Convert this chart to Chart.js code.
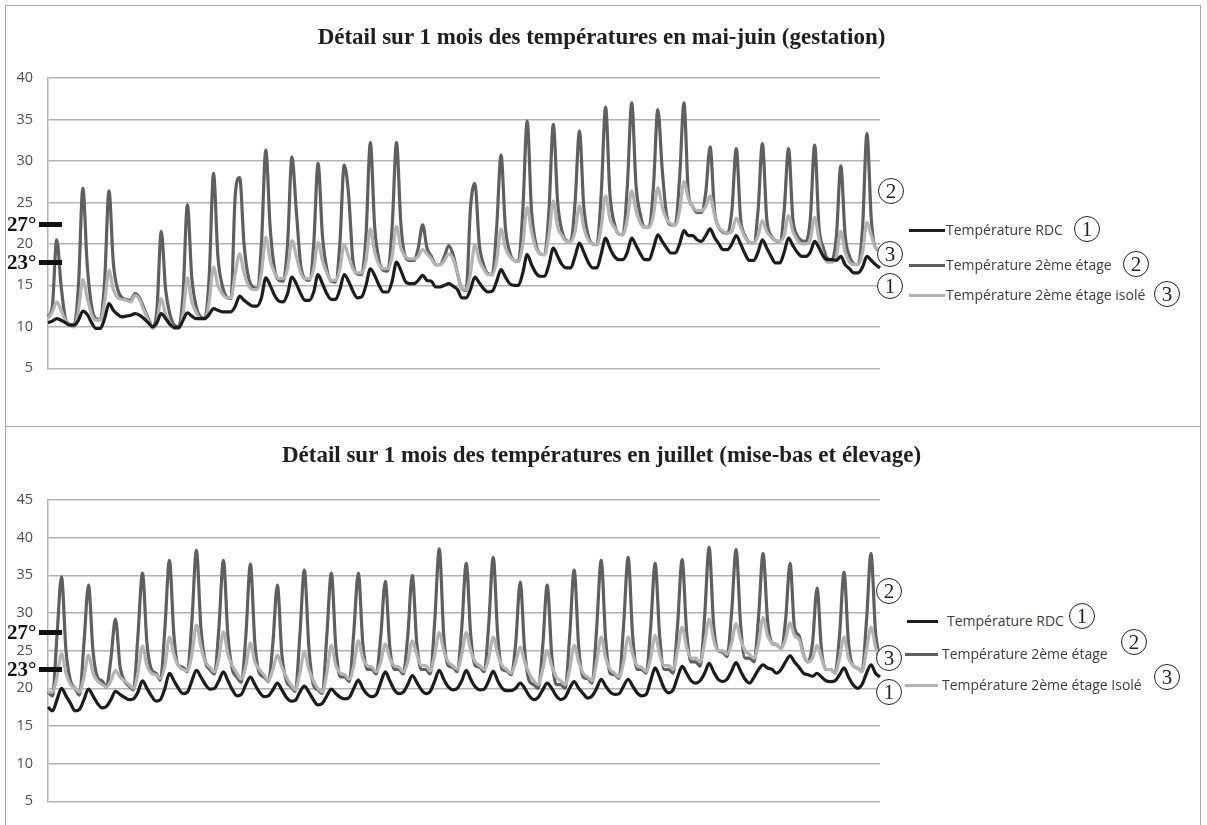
<!DOCTYPE html>
<html lang="fr">
<head>
<meta charset="utf-8">
<title>Détail sur 1 mois des températures</title>
<script src="https://cdn.jsdelivr.net/npm/chart.js@4/dist/chart.umd.min.js"></script>
<style>
  html, body { margin: 0; padding: 0; background: #fff; }
  body { width: 1207px; height: 825px; position: relative; overflow: hidden; }
  .frame { position: absolute; left: 5px; top: 5px; width: 1194px; height: 840px; border: 1.5px solid #a8a8a8; }
  .divider { position: absolute; left: 5px; top: 426px; width: 1196px; height: 0; border-top: 1.5px solid #a8a8a8; }
  canvas { position: absolute; left: 0; }
  .title { position: absolute; left: 0; width: 1203px; text-align: center; font: bold 23px "Liberation Serif", serif; color: #1f1f1f; line-height: 26px; }
  .deg { position: absolute; left: 7px; font: bold 21px "Liberation Serif", serif; color: #111; line-height: 22px; }
  .dash { position: absolute; left: 39px; width: 23px; height: 5px; background: #111; }
  .leg-line { position: absolute; height: 3px; }
  .leg-text { position: absolute; font: 14px "Open Sans", sans-serif; color: #3c3c3c; line-height: 18px; white-space: nowrap; }
  .circ { position: absolute; width: 24px; height: 24px; border: 1.2px solid #222; border-radius: 50%; background: #fff;
          font: 21px "Liberation Serif", serif; color: #222; text-align: center; line-height: 25px; box-sizing: content-box; }
</style>
</head>
<body>
<div class="frame"></div>
<div class="divider"></div>

<canvas id="chartMai" width="890" height="392" style="top:0"></canvas>
<canvas id="chartJuillet" width="890" height="398" style="top:427px"></canvas>

<div class="title" style="top:24px">Détail sur 1 mois des températures en mai-juin (gestation)</div>
<div class="title" style="top:442px">Détail sur 1 mois des températures en juillet (mise-bas et élevage)</div>

<!-- repères 27° / 23° -->
<div class="deg" style="top:213px">27°</div><div class="dash" style="top:222px"></div>
<div class="deg" style="top:251px">23°</div><div class="dash" style="top:260px"></div>
<div class="deg" style="top:621px">27°</div><div class="dash" style="top:630px"></div>
<div class="deg" style="top:658px">23°</div><div class="dash" style="top:667px"></div>

<!-- légende mai-juin -->
<div class="circ" style="left:878px;top:178px">2</div>
<div class="circ" style="left:877px;top:241px">3</div>
<div class="circ" style="left:877px;top:273px">1</div>
<div class="leg-line" style="left:909px;top:229px;width:36px;background:#1c1c1c"></div>
<div class="leg-text" style="left:946px;top:221px">Température RDC</div>
<div class="circ" style="left:1074px;top:216px">1</div>
<div class="leg-line" style="left:909px;top:264px;width:36px;background:#5f5f5f"></div>
<div class="leg-text" style="left:946px;top:256px">Température 2ème étage</div>
<div class="circ" style="left:1123px;top:251px">2</div>
<div class="leg-line" style="left:909px;top:294px;width:36px;background:#b3b3b3"></div>
<div class="leg-text" style="left:946px;top:286px">Température 2ème étage isolé</div>
<div class="circ" style="left:1154px;top:281px">3</div>

<!-- légende juillet -->
<div class="circ" style="left:876px;top:578px">2</div>
<div class="circ" style="left:876px;top:645px">3</div>
<div class="circ" style="left:876px;top:679px">1</div>
<div class="leg-line" style="left:907px;top:620px;width:31px;background:#1c1c1c"></div>
<div class="leg-text" style="left:947px;top:612px">Température RDC</div>
<div class="circ" style="left:1069px;top:603px">1</div>
<div class="leg-line" style="left:905px;top:653px;width:33px;background:#5f5f5f"></div>
<div class="leg-text" style="left:942px;top:645px">Température 2ème étage</div>
<div class="circ" style="left:1121px;top:629px">2</div>
<div class="leg-line" style="left:905px;top:684px;width:33px;background:#b3b3b3"></div>
<div class="leg-text" style="left:942px;top:676px">Température 2ème étage Isolé</div>
<div class="circ" style="left:1154px;top:664px">3</div>

<script>
// Relevés toutes les 4 h, 6 valeurs par jour
// mai-juin : 32 jours
const mayRdc = [
  10.5,10.7,11.0,10.8,10.5,10.2,  10.2,10.8,11.9,11.5,10.5,9.8,  9.8,11.0,12.8,12.0,11.5,11.2,  11.3,11.4,11.6,11.4,11.0,10.5,
  10.0,10.5,11.6,11.0,10.3,9.9,   9.9,10.8,11.7,11.3,11.0,11.0,  11.0,11.5,12.2,12.0,11.8,11.8, 11.8,12.5,13.7,13.2,12.8,12.5,
  12.5,13.5,15.9,15.0,13.8,13.1,  13.0,14.0,16.0,15.2,14.0,13.2, 13.2,14.2,16.3,15.2,14.0,13.3, 13.3,14.5,16.3,15.5,14.3,13.5,
  13.6,15.0,17.0,16.2,15.0,14.2,  14.2,15.5,17.8,16.8,15.5,15.2, 15.2,15.6,16.2,15.6,15.5,14.8, 14.8,15.0,15.2,14.9,14.5,13.5,
  13.5,14.5,16.0,15.3,14.6,14.2,  14.3,15.5,16.9,16.0,15.2,15.0, 15.0,16.5,18.7,17.5,16.5,16.1, 16.1,17.5,19.5,18.5,17.5,17.1,
  17.1,18.5,20.1,19.0,17.8,17.1,  17.1,18.8,20.7,19.5,18.5,18.1, 18.1,19.0,20.7,19.8,18.8,18.1, 18.1,19.5,21.1,20.3,19.5,18.9,
  18.9,20.0,21.6,21.0,21.0,20.5,  20.3,21.0,21.8,20.8,20.0,19.3, 19.3,20.0,21.0,20.0,18.8,18.0, 18.0,19.0,20.5,19.5,18.5,17.7,
  17.7,19.0,20.7,19.8,19.0,18.5,  18.5,19.0,20.3,19.5,18.5,18.1, 18.1,18.0,18.5,17.5,17.0,16.5, 16.5,17.2,18.5,18.0,17.5,17.1
];
const mayEtage2 = [
  11.2,12.5,20.5,15.0,11.0,10.3,  10.2,15.0,26.7,17.5,12.5,11.0, 10.9,15.5,26.4,17.7,14.5,13.5, 13.3,13.2,14.0,13.5,12.3,11.0,
  10.0,12.0,21.5,14.5,11.5,10.2,  10.0,14.0,24.7,16.0,12.5,11.2, 11.0,16.0,28.5,18.5,15.0,13.6, 13.4,26.0,28.0,20.0,16.0,14.8,
  14.6,20.0,31.3,22.0,17.0,15.6,  15.5,20.0,30.5,24.0,17.5,15.8, 15.6,20.0,29.7,21.0,17.0,15.5, 15.4,20.0,29.5,26.0,18.0,16.4,
  16.3,21.0,32.2,22.0,18.0,16.8,  16.7,22.0,32.2,22.5,18.5,18.0, 18.0,19.5,22.3,19.5,18.5,17.5, 17.5,18.5,19.8,18.7,16.5,14.6,
  14.4,24.4,27.3,20.0,17.5,16.4,  16.3,22.0,30.7,22.0,19.0,18.0, 17.9,24.0,34.8,24.0,20.0,18.8, 18.7,24.0,34.4,25.0,21.5,20.4,
  20.3,25.0,33.6,24.5,21.0,20.0,  19.9,26.0,36.5,26.0,22.5,21.2, 21.1,27.0,37.0,27.0,23.5,22.0, 22.0,27.0,36.2,29.0,23.5,22.3,
  22.3,28.0,37.0,26.2,24.5,23.8,  23.8,26.2,31.7,24.0,22.0,21.4, 21.3,24.0,31.5,23.0,21.0,20.2, 20.1,24.0,32.1,23.0,21.0,20.4,
  20.3,24.0,31.5,23.0,21.0,20.4,  20.3,23.0,31.9,22.0,19.5,18.2, 18.1,21.0,29.4,21.0,18.5,17.6, 17.5,22.0,33.3,23.0,19.5,19.3
];
const mayIsole = [
  11.0,11.8,13.0,12.0,10.8,10.2,  10.0,12.0,15.7,13.5,11.5,10.8, 10.8,13.0,16.8,14.5,13.5,13.3, 13.2,13.0,13.8,13.3,12.0,10.8,
  9.8,10.5,13.4,11.5,10.5,9.8,    9.8,11.5,15.9,13.0,11.8,11.0,  11.0,13.0,17.2,15.0,14.0,13.5, 13.5,16.5,18.8,16.5,15.0,14.5,
  14.5,16.5,20.8,18.0,16.5,15.8,  15.8,17.0,20.4,18.5,16.5,15.8, 15.8,17.0,20.2,18.0,16.5,15.6, 15.6,17.0,19.9,18.5,17.0,16.5,
  16.5,18.0,21.8,19.0,17.5,17.0,  17.0,18.5,22.1,19.5,18.5,18.2, 18.2,18.5,19.3,18.8,18.2,17.5, 17.5,18.0,18.8,18.2,16.5,14.6,
  14.5,16.5,19.9,18.0,17.0,16.3,  16.3,18.0,21.8,19.5,18.5,18.0, 17.9,20.0,24.4,21.5,19.5,18.8, 18.7,21.0,25.2,22.0,21.0,20.3,
  20.3,21.5,24.6,22.0,20.5,20.0,  19.9,22.0,25.8,23.0,22.0,21.2, 21.1,23.0,26.4,24.0,22.5,22.0, 22.0,23.5,26.8,24.5,23.0,22.4,
  22.3,24.0,27.5,25.5,24.5,24.0,  24.0,24.5,25.8,23.5,22.0,21.5, 21.3,21.5,23.1,22.0,20.8,20.2, 20.1,21.0,22.8,21.5,20.8,20.4,
  20.3,21.0,23.4,21.5,20.5,20.0,  20.0,20.5,23.2,20.5,18.5,17.8, 17.8,18.5,21.5,19.0,17.8,17.5, 17.5,19.0,22.6,21.0,19.5,19.3
];

// juillet : 31 jours
const julRdc = [
  17.5,17.0,18.5,20.0,19.0,18.0,  17.0,17.2,18.5,19.9,19.0,18.0, 17.4,17.6,18.5,19.6,19.2,18.8, 18.5,18.6,19.5,21.0,20.0,19.0,
  18.3,18.5,20.0,22.0,21.0,20.0,  19.3,19.5,21.0,22.4,21.5,20.5, 19.9,20.0,21.0,22.2,21.0,19.8, 19.0,19.2,20.5,21.5,20.5,19.5,
  18.9,19.0,19.8,20.7,19.8,18.8,  18.3,18.4,19.5,20.3,19.5,18.5, 17.8,18.0,19.0,19.9,19.3,18.8, 18.6,18.8,20.0,21.1,20.0,19.2,
  18.9,19.2,20.8,22.2,21.0,19.8,  19.3,19.5,20.5,21.7,20.8,19.8, 19.3,19.6,21.0,22.4,21.2,20.2, 19.8,20.0,21.0,22.4,21.2,20.2,
  19.8,19.9,21.0,22.3,21.0,20.0,  19.7,19.7,20.0,20.7,20.0,19.0, 18.5,18.8,19.8,20.7,20.0,19.0, 18.5,18.8,20.0,20.9,20.0,19.3,
  18.7,19.0,20.0,21.2,20.3,19.5,  19.2,19.3,20.3,21.2,20.3,19.4, 19.0,19.2,21.0,22.7,21.5,20.0, 19.4,19.8,21.5,22.9,22.0,21.0,
  20.7,21.0,22.0,23.3,22.2,21.2,  20.9,21.2,22.3,23.4,22.3,21.2, 20.7,21.5,22.5,23.1,22.7,22.5, 22.0,22.5,23.5,24.3,23.5,22.8,
  22.0,21.8,21.6,22.0,21.5,21.0,  20.9,21.0,21.8,22.7,21.5,20.5, 20.0,20.5,22.0,23.1,22.0,21.5
];
const julEtage2 = [
  19.5,19.0,27.0,34.8,25.0,21.0,  20.0,19.1,26.0,33.7,25.0,21.5, 21.0,20.2,24.0,29.2,23.0,21.0, 20.3,19.8,27.0,35.3,26.0,22.5,
  22.0,21.1,28.0,37.0,27.0,23.0,  22.8,22.2,29.0,38.3,28.0,23.5, 22.5,21.9,28.0,37.0,27.0,22.5, 21.5,20.8,27.0,36.5,26.0,22.0,
  21.5,20.9,26.0,33.7,24.5,21.0,  20.2,19.6,27.0,35.7,25.5,20.5, 19.8,19.3,27.0,35.3,25.5,21.5, 21.5,20.9,27.5,35.3,26.0,22.5,
  22.5,21.9,27.0,34.2,25.5,22.5,  22.5,21.9,27.0,35.0,26.0,22.5, 22.5,21.9,29.0,38.5,27.0,23.0, 22.8,22.2,28.0,36.6,27.0,23.0,
  22.8,22.2,28.5,37.4,27.0,22.5,  22.3,21.8,26.0,34.1,25.0,21.0, 20.5,20.0,25.5,33.7,24.5,20.5, 20.5,20.0,27.0,35.7,25.5,21.5,
  21.3,20.7,28.0,37.0,26.5,22.0,  21.8,21.3,28.5,37.4,27.0,22.5, 22.5,22.0,28.0,36.6,27.0,22.5, 22.5,22.0,28.5,37.1,27.5,23.5,
  23.5,22.9,29.5,38.7,28.5,25.0,  24.8,24.2,30.0,38.4,28.5,24.0, 24.0,23.5,29.5,37.9,29.0,26.0, 25.8,25.3,29.0,36.6,28.0,27.0,
  24.5,23.5,26.0,33.3,25.0,22.5,  22.5,22.0,27.0,35.4,26.0,23.0, 22.7,22.2,29.0,37.9,27.5,24.0
];
const julIsole = [
  19.5,19.5,21.5,24.6,22.0,20.5,  20.0,19.5,21.5,24.4,22.0,21.0, 20.5,20.2,21.0,22.4,21.5,21.0, 20.5,20.0,22.0,25.6,23.0,22.0,
  21.8,21.3,23.0,26.8,24.5,23.0,  22.5,22.3,24.5,28.4,25.5,23.5, 22.8,22.2,24.0,27.5,24.5,23.0, 22.0,21.2,23.0,26.0,23.5,22.5,
  21.8,21.0,22.5,24.4,22.8,21.5,  20.5,19.8,22.0,24.8,22.5,21.0, 20.0,19.5,22.0,25.7,23.0,22.0, 21.8,21.2,23.0,26.3,24.0,23.0,
  22.8,22.2,23.5,25.9,24.0,23.0,  22.8,22.2,23.5,26.3,24.5,23.0, 23.0,22.3,24.5,27.4,25.0,23.5, 23.0,22.5,24.5,27.4,25.0,23.5,
  23.0,22.5,24.0,26.8,24.5,23.0,  22.5,22.0,23.5,25.5,23.5,22.0, 21.0,20.5,22.5,25.0,23.0,21.5, 21.0,20.5,22.5,25.7,23.5,22.0,
  21.5,21.0,23.5,26.8,24.0,22.5,  22.0,21.5,23.5,26.8,24.5,23.0, 22.8,22.2,24.0,27.0,24.5,23.0, 23.0,22.5,25.0,28.1,25.5,24.0,
  24.0,23.5,26.0,29.2,26.5,25.0,  25.0,24.5,26.0,28.6,26.5,25.0, 24.5,24.0,26.0,29.4,27.0,26.0, 25.8,25.3,26.5,28.7,27.0,26.5,
  24.5,23.5,24.0,25.7,24.0,22.5,  22.5,22.0,24.0,26.8,24.0,23.0, 22.7,22.2,25.0,28.1,25.5,23.5
];

const mayTicks = [5, 10, 15, 20, 25, 30, 35, 40];
const julTicks = [5, 10, 15, 20, 25, 30, 35, 40, 45];

const seriesNames = ['Température RDC', 'Température 2ème étage', 'Température 2ème étage isolé'];
const seriesColors = ['#1c1c1c', '#5f5f5f', '#b3b3b3'];
const drawOrder = [0, 2, 1];   // RDC au-dessus, 2ème étage dessous

function makeChart(id, values, ticks, padTop, padBottom) {
  const hours = values[0].map((_, i) => (i * 4) + ' h');
  new Chart(document.getElementById(id), {
    type: 'line',
    data: {
      labels: hours,
      datasets: values.map((v, k) => ({
        label: seriesNames[k],
        data: v,
        borderColor: seriesColors[k],
        borderWidth: 3.2,
        pointRadius: 0,
        cubicInterpolationMode: 'monotone',
        order: drawOrder[k]
      }))
    },
    options: {
      responsive: false,
      animation: false,
      layout: { padding: { top: padTop, bottom: padBottom, left: 0, right: 10 } },
      plugins: { legend: { display: false }, tooltip: { enabled: false }, title: { display: false } },
      scales: {
        x: { display: false },
        y: {
          min: ticks[0],
          max: ticks[ticks.length - 1],
          afterFit: s => { s.width = 48; },
          afterBuildTicks: s => { s.ticks = ticks.map(t => ({ value: t })); },
          ticks: { color: '#4f4f4f', padding: 15, font: { family: 'Open Sans', size: 14.5 } },
          grid: { color: '#b2b2b2', lineWidth: 1.5, drawTicks: false },
          border: { display: true, color: '#b2b2b2', width: 1.5 }
        }
      }
    }
  });
}

makeChart('chartMai', [mayRdc, mayEtage2, mayIsole], mayTicks, 78, 18);
makeChart('chartJuillet', [julRdc, julEtage2, julIsole], julTicks, 73, 18);
</script>
</body>
</html>
